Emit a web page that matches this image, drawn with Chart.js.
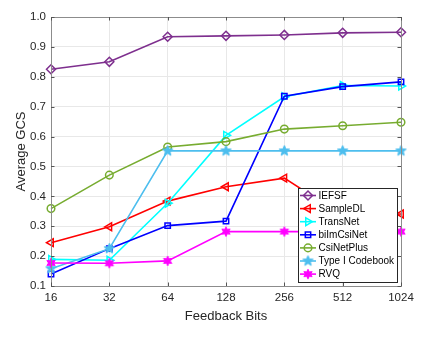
<!DOCTYPE html>
<html><head><meta charset="utf-8">
<script src="https://cdn.jsdelivr.net/npm/chart.js@4/dist/chart.umd.min.js"></script>
<style>html,body{margin:0;padding:0;background:#fff}#wrap{width:423px;height:338px}</style>
</head><body><div id="wrap"><canvas id="c" width="423" height="338"></canvas></div>
<script>
const categories = ['16','32','64','128','256','512','1024'];
const yTicks = [0.1,0.2,0.3,0.4,0.5,0.6,0.7,0.8,0.9,1.0];
const seriesNames = ['IEFSF','SampleDL','TransNet','biImCsiNet','CsiNetPlus','Type I Codebook','RVQ'];
const iefsf      = [0.825,0.850,0.934,0.937,0.940,0.947,0.949];
const sampleDL   = [0.245,0.298,0.384,0.432,0.461,0.335,0.341];
const transNet   = [0.189,0.186,0.377,0.604,0.733,0.771,0.769];
const bilmCsiNet = [0.140,0.225,0.302,0.317,0.735,0.767,0.783];
const csiNetPlus = [0.359,0.471,0.565,0.583,0.625,0.636,0.648];
const typeI      = [0.158,0.225,0.552,0.552,0.552,0.552,0.552];
const rvq        = [0.177,0.176,0.184,0.282,0.282,0.282,0.282];

function starCanvas(n, rOut, rIn, color){
  const s = Math.ceil(rOut*2+2), c = document.createElement('canvas');
  c.width = s; c.height = s; const g = c.getContext('2d');
  g.beginPath();
  for(let i=0;i<2*n;i++){
    const r = i%2===0 ? rOut : rIn, a = -Math.PI/2 + i*Math.PI/n;
    const x = s/2 + r*Math.cos(a), y = s/2 + r*Math.sin(a);
    i===0 ? g.moveTo(x,y) : g.lineTo(x,y);
  }
  g.closePath(); g.fillStyle = color; g.fill();
  g.strokeStyle = color; g.lineWidth = 1; g.stroke();
  return c;
}
const star5 = starCanvas(5, 5.5, 2.4, '#4DBEEE');
const star6 = starCanvas(6, 4.8, 2.5, '#FF00FF');

const styles = [
  {color:'#7E2F8E', ps:'rectRot', r:4.5, rot:0},
  {color:'#FF0000', ps:'triangle', r:4.5, rot:-90},
  {color:'#00FFFF', ps:'triangle', r:4.5, rot:90},
  {color:'#0000FF', ps:'rect', r:3.8, rot:0},
  {color:'#77AC30', ps:'circle', r:3.8, rot:0},
  {color:'#4DBEEE', ps:star5, r:5, rot:0},
  {color:'#FF00FF', ps:star6, r:5, rot:0}
];
const allData = [iefsf,sampleDL,transNet,bilmCsiNet,csiNetPlus,typeI,rvq];
const datasets = allData.map((d,i)=>({
  label: seriesNames[i], data: d,
  borderColor: styles[i].color, backgroundColor: 'rgba(0,0,0,0)',
  borderWidth: 1.6, pointStyle: styles[i].ps, pointRadius: styles[i].r,
  pointRotation: styles[i].rot, pointBorderWidth: 1.5,
  pointBorderColor: styles[i].color, pointBackgroundColor: 'rgba(0,0,0,0)',
  tension: 0, order: 10 - i
}));

const boxPlugin = {
  id:'box',
  afterDraw(chart){
    const {ctx, chartArea:a, scales} = chart;
    ctx.save();
    ctx.strokeStyle = '#8c8c8c'; ctx.lineWidth = 1;
    ctx.strokeRect(Math.round(a.left)+0.5, Math.round(a.top)+0.5, Math.round(a.right-a.left), Math.round(a.bottom-a.top));
    ctx.strokeStyle = '#555';
    ctx.beginPath();
    scales.y.ticks.forEach((t,i)=>{
      const y = Math.round(scales.y.getPixelForTick(i))+0.5;
      ctx.moveTo(a.left, y); ctx.lineTo(a.left+3.5, y);
      ctx.moveTo(a.right, y); ctx.lineTo(a.right-3.5, y);
    });
    scales.x.ticks.forEach((t,i)=>{
      const x = Math.round(scales.x.getPixelForTick(i))+0.5;
      ctx.moveTo(x, a.bottom); ctx.lineTo(x, a.bottom-3.5);
      ctx.moveTo(x, a.top); ctx.lineTo(x, a.top+3.5);
    });
    ctx.stroke();
    // legend
    const lx = 298.5, ly = 188.5, lw = 99, lh = 94;
    ctx.fillStyle = '#fff'; ctx.fillRect(lx, ly, lw, lh);
    ctx.strokeStyle = '#262626'; ctx.lineWidth = 1; ctx.strokeRect(lx, ly, lw, lh);
    ctx.font = '10px "Liberation Sans", Arial, sans-serif';
    ctx.textBaseline = 'middle'; ctx.textAlign = 'left';
    seriesNames.forEach((n,i)=>{
      const y = 195.5 + i*13.1;
      const st = styles[i];
      ctx.strokeStyle = st.color; ctx.lineWidth = 1.6;
      ctx.beginPath(); ctx.moveTo(300, y); ctx.lineTo(316, y); ctx.stroke();
      ctx.lineWidth = 1.5; ctx.fillStyle = 'rgba(0,0,0,0)';
      Chart.helpers.drawPoint(ctx, {pointStyle: st.ps, radius: st.r, rotation: st.rot, borderWidth: 1.5}, 308, y);
      ctx.fillStyle = '#000';
      ctx.fillText(n, 318.5, y+0.5);
    });
    ctx.restore();
  }
};

new Chart(document.getElementById('c'), {
  type:'line',
  data:{labels: categories, datasets},
  options:{
    responsive:false, animation:false, devicePixelRatio:1,
    layout:{padding:{top:17, right:22, left:0, bottom:0}},
    plugins:{legend:{display:false}, tooltip:{enabled:false}},
    scales:{
      x:{
        type:'category', offset:false,
        grid:{color:'#e8e8e8', drawTicks:false},
        border:{display:false},
        ticks:{color:'#262626', padding:5, maxRotation:0, autoSkip:false,
               font:{family:'"Liberation Sans", Arial, sans-serif', size:11.5}},
        title:{display:true, text:'Feedback Bits', color:'#262626', padding:{top:0, bottom:14},
               font:{family:'"Liberation Sans", Arial, sans-serif', size:13}},
        afterFit(s){ s.height = 52; }
      },
      y:{
        min:0.1, max:1.0,
        afterBuildTicks(s){ s.ticks = yTicks.map(v=>({value:v})); },
        grid:{color:'#e8e8e8', drawTicks:false},
        border:{display:false},
        ticks:{color:'#262626', padding:5, callback:v=>v.toFixed(1),
               font:{family:'"Liberation Sans", Arial, sans-serif', size:11.5}},
        title:{display:true, text:'Average GCS', color:'#262626', padding:{top:14, bottom:0},
               font:{family:'"Liberation Sans", Arial, sans-serif', size:13}},
        afterFit(s){ s.width = 51; }
      }
    }
  },
  plugins:[boxPlugin]
});
</script></body></html>
